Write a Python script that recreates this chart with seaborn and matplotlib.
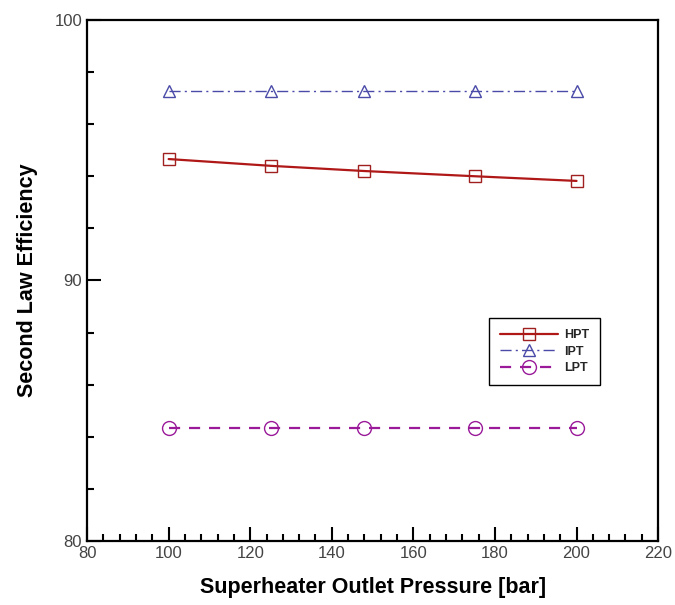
import pandas as pd
import matplotlib
import matplotlib.pyplot as plt
import seaborn as sns
from matplotlib.ticker import MultipleLocator

matplotlib.use('Agg')

# 数据
pressure = [100, 125, 148, 175, 200]
hpt = [94.66, 94.40, 94.20, 94.00, 93.82]
ipt = [97.27, 97.27, 97.27, 97.27, 97.27]
lpt = [84.34, 84.34, 84.34, 84.34, 84.34]

df = pd.DataFrame({'pressure': pressure, 'HPT': hpt, 'IPT': ipt, 'LPT': lpt})

sns.set_style('ticks')
plt.rcParams['font.family'] = ['Liberation Sans', 'DejaVu Sans']

fig, ax = plt.subplots(figsize=(6.75, 6.05), dpi=100)
fig.subplots_adjust(left=0.129, right=0.975, top=0.967, bottom=0.106)

sns.lineplot(data=df, x='pressure', y='HPT', ax=ax, color='#b01818', lw=1.6,
             marker='s', ms=8.5, mfc='none', mec='#a02020', mew=1.0, label='HPT')
sns.lineplot(data=df, x='pressure', y='IPT', ax=ax, color='#4a4aa8', lw=1.0,
             marker='^', ms=9, mfc='none', mec='#4a4aa8', mew=1.0, label='IPT')
ax.lines[-1].set_dashes((8, 3, 1.5, 3))
sns.lineplot(data=df, x='pressure', y='LPT', ax=ax, color='#9a1a9a', lw=1.6,
             marker='o', ms=10, mfc='none', mec='#9a1a9a', mew=1.0, label='LPT')
ax.lines[-1].set_dashes((5, 4))

ax.set_xlim(80, 220)
ax.set_ylim(80, 100)
ax.xaxis.set_major_locator(MultipleLocator(20))
ax.xaxis.set_minor_locator(MultipleLocator(4))
ax.yaxis.set_major_locator(MultipleLocator(10))
ax.yaxis.set_minor_locator(MultipleLocator(2))
ax.tick_params(which='both', direction='in', width=1.5, colors='black',
               labelcolor='#444444', labelsize=12, top=False, right=False)
ax.tick_params(which='major', length=10)
ax.tick_params(which='minor', length=5)

for sp in ax.spines.values():
    sp.set_visible(True)
    sp.set_linewidth(1.6)
    sp.set_color('black')

ax.set_xlabel('Superheater Outlet Pressure [bar]', fontsize=15.5, fontweight='bold',
              labelpad=12, color='black')
ax.set_ylabel('Second Law Efficiency', fontsize=15.5, fontweight='bold',
              labelpad=12, color='black')

leg = ax.legend(loc='upper left', bbox_to_anchor=(0.693, 0.44), frameon=True,
                fancybox=False, edgecolor='black', framealpha=1, handlelength=4.6,
                handletextpad=0.5, prop={'size': 9, 'weight': 'bold'},
                borderpad=0.9, labelspacing=0.35)
leg.get_frame().set_linewidth(1.0)

plt.savefig('out.png', dpi=100)
plt.close()
